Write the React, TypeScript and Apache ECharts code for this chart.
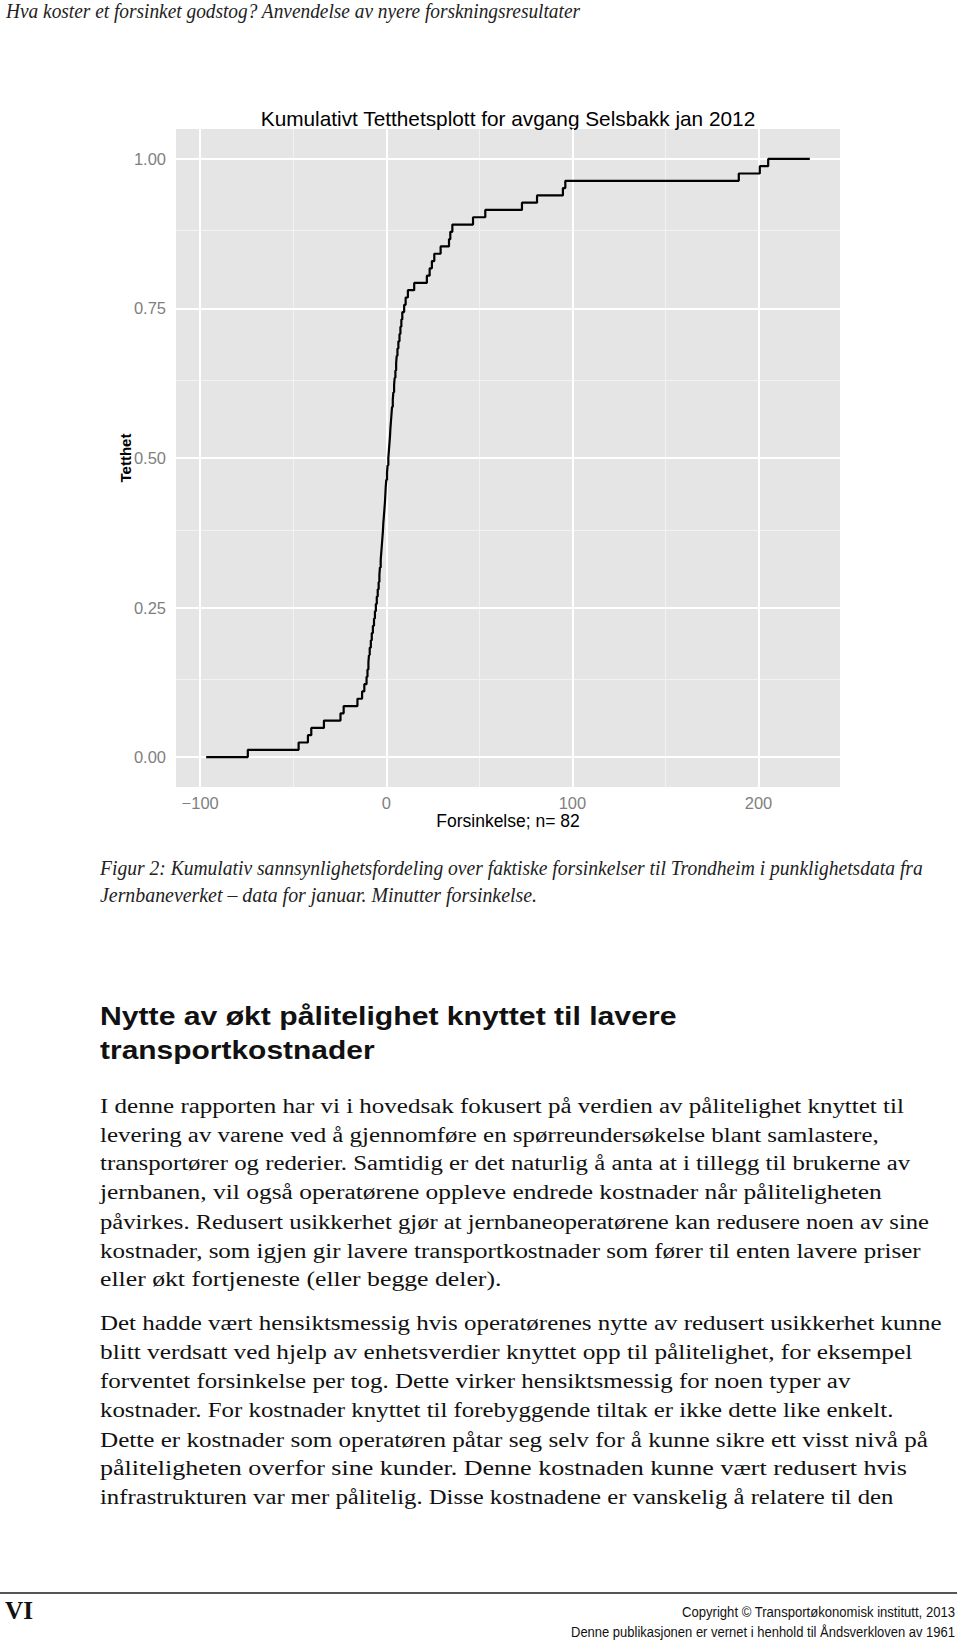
import React, { useEffect, useLayoutEffect, useRef } from "react";
import * as echarts from "echarts";

// ---------- data ----------
// sorted delays (minutes) of the 82 departures, read from the steps of the ECDF
const delays = [
  -74.4, -47.1, -42.1, -40.3, -33.5, -24.6, -22.9, -15.5, -13.0, -11.8,
  -10.6, -10.1, -9.6, -9.3, -8.9, -8.3, -7.8, -7.2, -6.6, -6.1,
  -5.6, -5.1, -4.6, -4.1, -3.7, -3.4, -3.0, -2.7, -2.4, -2.1,
  -1.8, -1.6, -1.3, -1.0, -0.7, -0.5, -0.3, 0.0, 0.4, 0.7,
  1.1, 1.4, 1.7, 2.0, 2.2, 2.5, 2.8, 3.1, 3.5, 3.8,
  4.2, 4.5, 4.9, 5.3, 5.6, 6.0, 6.5, 7.1, 7.6, 8.1,
  8.6, 9.6, 10.4, 11.6, 15.0, 21.8, 23.3, 24.5, 25.8, 29.2,
  33.7, 34.4, 35.5, 46.6, 53.2, 72.9, 81.0, 94.9, 96.2, 189.4,
  200.7, 205.2,
];
const xBreaks = [-100, 0, 100, 200];
const xMinorBreaks = [-50, 50, 150];
const yBreaks = [0, 0.25, 0.5, 0.75, 1];
const yMinorBreaks = [0.125, 0.375, 0.625, 0.875];
const chartTitle = "Kumulativt Tetthetsplott for avgang Selsbakk jan 2012";
const xTitle = "Forsinkelse; n= 82";
const yTitle = "Tetthet";

const headerText = "Hva koster et forsinket godstog? Anvendelse av nyere forskningsresultater";
const captionLines = [
  "Figur 2: Kumulativ sannsynlighetsfordeling over faktiske forsinkelser til Trondheim i punklighetsdata fra",
  "Jernbaneverket – data for januar. Minutter forsinkelse.",
];
const headingLines = ["Nytte av økt pålitelighet knyttet til lavere", "transportkostnader"];
const para1 = [
  "I denne rapporten har vi i hovedsak fokusert på verdien av pålitelighet knyttet til",
  "levering av varene ved å gjennomføre en spørreundersøkelse blant samlastere,",
  "transportører og rederier. Samtidig er det naturlig å anta at i tillegg til brukerne av",
  "jernbanen, vil også operatørene oppleve endrede kostnader når påliteligheten",
  "påvirkes. Redusert usikkerhet gjør at jernbaneoperatørene kan redusere noen av sine",
  "kostnader, som igjen gir lavere transportkostnader som fører til enten lavere priser",
  "eller økt fortjeneste (eller begge deler).",
];
const para2 = [
  "Det hadde vært hensiktsmessig hvis operatørenes nytte av redusert usikkerhet kunne",
  "blitt verdsatt ved hjelp av enhetsverdier knyttet opp til pålitelighet, for eksempel",
  "forventet forsinkelse per tog. Dette virker hensiktsmessig for noen typer av",
  "kostnader. For kostnader knyttet til forebyggende tiltak er ikke dette like enkelt.",
  "Dette er kostnader som operatøren påtar seg selv for å kunne sikre ett visst nivå på",
  "påliteligheten overfor sine kunder. Denne kostnaden kunne vært redusert hvis",
  "infrastrukturen var mer pålitelig. Disse kostnadene er vanskelig å relatere til den",
];
const footerPage = "VI";
const footerLines = [
  "Copyright © Transportøkonomisk institutt, 2013",
  "Denne publikasjonen er vernet i henhold til Åndsverkloven av 1961",
];

// ---------- layout ----------
const S = 960 / 916;
const para1Right = [862, 838, 868, 841, 886, 878, 478];
const para1Y = [1057, 1084, 1111, 1139, 1167, 1195, 1222];
const para2Right = [898, 870, 811, 852, 885, 865, 852];
const para2Y = [1264, 1291, 1319, 1347, 1375, 1402, 1430];

const SERIF = "'Liberation Serif', 'DejaVu Serif', serif";
const SANS = "'Liberation Sans', Arial, sans-serif";

type FitProps = {
  text: string;
  left: number;
  width: number;
  cy: number;
  size: number;
  family: string;
  italic?: boolean;
  bold?: boolean;
  color?: string;
  k?: number;
};

function FitText({ text, left, width, cy, size, family, italic, bold, color, k = 0.56 }: FitProps) {
  const ref = useRef<HTMLSpanElement>(null);
  useLayoutEffect(() => {
    const el = ref.current;
    if (!el) return;
    el.style.transform = "none";
    const w = el.getBoundingClientRect().width;
    if (w > 0) el.style.transform = `scaleX(${width / w})`;
  }, [text, width]);
  return (
    <span
      ref={ref}
      style={{
        position: "absolute",
        left,
        top: cy - size * k,
        fontSize: size,
        lineHeight: `${size}px`,
        whiteSpace: "pre",
        fontFamily: family,
        fontStyle: italic ? "italic" : "normal",
        fontWeight: bold ? 700 : 400,
        color: color || "#111",
        transformOrigin: "0 0",
        display: "inline-block",
        zIndex: 2,
      }}
    >
      {text}
    </span>
  );
}

function Chart() {
  const ref = useRef<HTMLDivElement>(null);
  useEffect(() => {
    if (!ref.current) return;
    const chart = echarts.init(ref.current, undefined, { renderer: "svg" });

    // ECDF as drawn by ggplot2's stat_ecdf (0.9.x): padded by 8% of the range
    const sorted = [...delays].sort((a, b) => a - b);
    const n = sorted.length;
    const pad = 0.08 * (sorted[n - 1] - sorted[0]);
    const pts: number[][] = [[sorted[0] - pad, 0]];
    sorted.forEach((x, i) => pts.push([x, (i + 1) / n]));
    pts.push([sorted[n - 1] + pad, 1]);

    const xs = pts.map((p) => p[0]);
    const xLo = Math.min(...xs);
    const xHi = Math.max(...xs);
    const xExp = 0.05 * (xHi - xLo);
    const yExp = 0.05;

    const gridLeft = 176;
    const gridTop = 129;
    const gridW = 664;
    const gridH = 658;
    const cx = gridLeft + gridW / 2;
    const cyy = gridTop + gridH / 2;

    const minorStyle = { color: "#F2F2F2", width: 1, type: "solid" };
    const majorStyle = { color: "#FFFFFF", width: 2, type: "solid" };

    chart.setOption({
      animation: false,
      grid: {
        left: gridLeft,
        top: gridTop,
        width: gridW,
        height: gridH,
        show: true,
        backgroundColor: "#E5E5E5",
        borderWidth: 0,
      },
      xAxis: {
        type: "value",
        min: xLo - xExp,
        max: xHi + xExp,
        axisLine: { show: false },
        splitLine: { show: false },
        axisTick: {
          show: true,
          customValues: xBreaks,
          length: 7,
          lineStyle: { color: "#7F7F7F", width: 1.5 },
        },
        axisLabel: {
          customValues: xBreaks,
          formatter: (v: number) => (v < 0 ? "\u2212" + Math.abs(v) : String(v)),
          color: "#7F7F7F",
          fontSize: 16.5,
          fontFamily: SANS,
          margin: 7,
        },
      },
      yAxis: {
        type: "value",
        min: -yExp,
        max: 1 + yExp,
        axisLine: { show: false },
        splitLine: { show: false },
        axisTick: {
          show: true,
          customValues: yBreaks,
          length: 7,
          lineStyle: { color: "#7F7F7F", width: 1.5 },
        },
        axisLabel: {
          customValues: yBreaks,
          formatter: (v: number) => v.toFixed(2),
          color: "#7F7F7F",
          fontSize: 16.5,
          fontFamily: SANS,
          margin: 10,
        },
      },
      graphic: [
        {
          type: "text",
          x: cx,
          y: 118.5,
          style: {
            text: chartTitle,
            fill: "#000",
            font: `20.8px ${SANS}`,
            textAlign: "center",
            textVerticalAlign: "middle",
          },
        },
        {
          type: "text",
          x: cx,
          y: 821,
          style: {
            text: xTitle,
            fill: "#000",
            font: `17.5px ${SANS}`,
            textAlign: "center",
            textVerticalAlign: "middle",
          },
        },
        {
          type: "text",
          x: 125.5,
          y: cyy,
          rotation: Math.PI / 2,
          style: {
            text: yTitle,
            fill: "#000",
            font: `bold 15px ${SANS}`,
            textAlign: "center",
            textVerticalAlign: "middle",
          },
        },
      ],
      series: [
        {
          type: "line",
          data: pts,
          step: "end",
          showSymbol: false,
          symbol: "none",
          silent: true,
          z: 3,
          lineStyle: { color: "#000000", width: 2.2 },
          markLine: {
            z: 1,
            silent: true,
            symbol: ["none", "none"],
            label: { show: false },
            emphasis: { disabled: true },
            data: [
              ...xMinorBreaks.map((v) => ({ xAxis: v, lineStyle: minorStyle })),
              ...yMinorBreaks.map((v) => ({ yAxis: v, lineStyle: minorStyle })),
              ...xBreaks.map((v) => ({ xAxis: v, lineStyle: majorStyle })),
              ...yBreaks.map((v) => ({ yAxis: v, lineStyle: majorStyle })),
            ],
          },
        },
      ],
    });
    return () => chart.dispose();
  }, []);
  return (
    <div
      ref={ref}
      style={{ position: "absolute", left: 0, top: 0, width: 960, height: 860, zIndex: 1 }}
    />
  );
}

export default function App() {
  const L = 95 * S;
  return (
    <div style={{ position: "absolute", left: 0, top: 0, width: 960, height: 1643, background: "#fff", overflow: "hidden" }}>
      <Chart />
      <FitText text={headerText} left={6} width={574} cy={12} size={20} family={SERIF} italic color="#222" />
      <FitText text={captionLines[0]} left={L} width={880 * S - L} cy={829 * S} size={20} family={SERIF} italic color="#222" />
      <FitText text={captionLines[1]} left={L} width={512 * S - L} cy={855 * S} size={20} family={SERIF} italic color="#222" />
      <FitText text={headingLines[0]} left={L} width={645 * S - L} cy={970 * S} size={26} family={SANS} bold color="#111" k={0.52} />
      <FitText text={headingLines[1]} left={L} width={357 * S - L} cy={1002 * S} size={26} family={SANS} bold color="#111" k={0.52} />
      {para1.map((t, i) => (
        <FitText key={"p1" + i} text={t} left={L} width={para1Right[i] * S - L} cy={para1Y[i] * S} size={20.5} family={SERIF} color="#111" />
      ))}
      {para2.map((t, i) => (
        <FitText key={"p2" + i} text={t} left={L} width={para2Right[i] * S - L} cy={para2Y[i] * S} size={20.5} family={SERIF} color="#111" />
      ))}
      <div style={{ position: "absolute", left: 0, top: 1592, width: 957, height: 2, background: "#555" }} />
      <FitText text={footerPage} left={5} width={28} cy={1611} size={26} family={SERIF} bold color="#111" k={0.5} />
      <FitText text={footerLines[0]} left={682} width={273} cy={1612} size={14} family={SANS} color="#111" k={0.52} />
      <FitText text={footerLines[1]} left={571} width={384} cy={1632} size={14} family={SANS} color="#111" k={0.52} />
    </div>
  );
}
